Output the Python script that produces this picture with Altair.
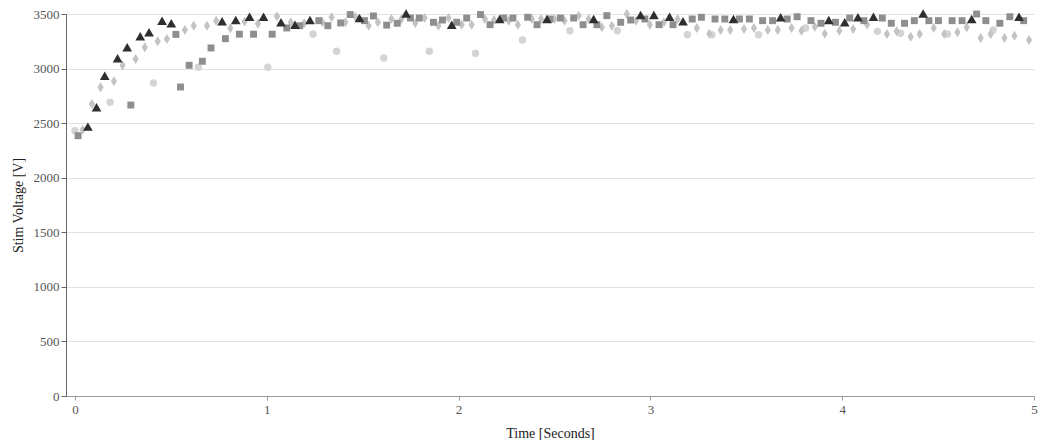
import altair as alt
import pandas as pd

# Black triangles
tri_t = [0.067, 0.112, 0.155, 0.222, 0.272, 0.340, 0.386, 0.454, 0.502, 0.767, 0.838, 0.910, 0.983,
         1.074, 1.147, 1.225, 1.483, 1.726, 1.964, 2.214, 2.461, 2.704, 2.949, 3.018, 3.100, 3.170,
         3.433, 3.679, 3.930, 4.013, 4.082, 4.163, 4.422, 4.675, 4.922]
tri_v = [2468, 2645, 2935, 3094, 3195, 3296, 3332, 3439, 3415, 3433, 3445, 3475, 3475,
         3424, 3402, 3445, 3463, 3505, 3402, 3454, 3454, 3454, 3490, 3490, 3475, 3433,
         3454, 3470, 3445, 3424, 3470, 3475, 3505, 3454, 3475]

# Medium gray squares
sq_t = [0.016, 0.291, 0.526, 0.550, 0.595, 0.664, 0.709, 0.784, 0.857, 0.931, 1.028, 1.104, 1.172,
        1.271, 1.318, 1.385, 1.435, 1.509, 1.556, 1.625, 1.680, 1.749, 1.795, 1.869, 1.916, 1.990,
        2.042, 2.114, 2.164, 2.235, 2.283, 2.360, 2.409, 2.476, 2.531, 2.600, 2.649, 2.721, 2.773,
        2.845, 2.897, 2.971, 3.045, 3.118, 3.218, 3.266, 3.337, 3.388, 3.464, 3.516, 3.585, 3.637,
        3.713, 3.765, 3.837, 3.889, 3.965, 4.039, 4.113, 4.209, 4.256, 4.325, 4.376, 4.452, 4.502,
        4.573, 4.625, 4.701, 4.749, 4.822, 4.874, 4.946]
sq_v = [2385, 2666, 3313, 2831, 3030, 3067, 3189, 3274, 3315, 3315, 3315, 3372, 3393,
        3439, 3393, 3418, 3495, 3439, 3482, 3398, 3415, 3463, 3463, 3424, 3445, 3424,
        3463, 3495, 3402, 3463, 3463, 3470, 3402, 3454, 3463, 3463, 3402, 3402, 3485,
        3424, 3445, 3454, 3402, 3402, 3454, 3470, 3454, 3454, 3454, 3454, 3439, 3439,
        3454, 3475, 3439, 3415, 3424, 3463, 3439, 3463, 3415, 3415, 3439, 3439, 3439,
        3439, 3439, 3500, 3439, 3415, 3475, 3439]

# Light gray diamonds
dia_t = [0.040, 0.088, 0.133, 0.203, 0.248, 0.316, 0.364, 0.431, 0.479, 0.573, 0.619, 0.688, 0.736,
         0.810, 0.884, 0.954, 1.053, 1.125, 1.195, 1.290, 1.338, 1.410, 1.462, 1.531, 1.579, 1.650,
         1.702, 1.774, 1.823, 1.895, 1.947, 2.016, 2.068, 2.137, 2.185, 2.261, 2.309, 2.382, 2.430,
         2.500, 2.552, 2.626, 2.678, 2.747, 2.799, 2.877, 2.925, 2.997, 3.070, 3.142, 3.242, 3.307,
         3.366, 3.416, 3.488, 3.540, 3.612, 3.664, 3.736, 3.788, 3.857, 3.909, 3.985, 4.057, 4.130,
         4.233, 4.284, 4.357, 4.404, 4.477, 4.532, 4.601, 4.649, 4.722, 4.774, 4.846, 4.898, 4.974]
dia_v = [2440, 2675, 2828, 2883, 3027, 3088, 3195, 3250, 3271, 3353, 3393, 3393, 3439,
         3370, 3432, 3410, 3480, 3424, 3416, 3424, 3470, 3424, 3475, 3393, 3424, 3454,
         3454, 3415, 3463, 3393, 3463, 3402, 3402, 3454, 3445, 3439, 3402, 3454, 3454,
         3454, 3439, 3485, 3454, 3378, 3393, 3500, 3439, 3402, 3424, 3454, 3372, 3320,
         3353, 3353, 3362, 3372, 3353, 3353, 3372, 3347, 3384, 3320, 3347, 3362, 3402,
         3317, 3341, 3292, 3317, 3372, 3317, 3332, 3378, 3280, 3317, 3280, 3301, 3262]

# Very light gray circles
cir_t = [0.000, 0.183, 0.409, 0.643, 1.005, 1.241, 1.364, 1.610, 1.847, 2.088, 2.333, 2.580,
         2.828, 3.193, 3.320, 3.564, 3.809, 4.184, 4.304, 4.549, 4.787]
cir_v = [2431, 2691, 2868, 3012, 3012, 3317, 3158, 3097, 3158, 3140, 3262, 3347,
         3347, 3310, 3310, 3310, 3372, 3341, 3323, 3317, 3353]

x_ticks = [0, 1, 2, 3, 4, 5]
y_ticks = [0, 500, 1000, 1500, 2000, 2500, 3000, 3500]

FONT = "Liberation Serif"

def frame(t, v):
    return pd.DataFrame({"t": t, "v": v})

xenc = alt.X("t:Q", title="Time [Seconds]",
             scale=alt.Scale(domain=[-0.047, 5.0], nice=False, zero=False),
             axis=alt.Axis(values=x_ticks, grid=False, format="d", labelFlush=False,
                           labelFont=FONT, labelFontSize=13, labelColor="#555",
                           titleFont=FONT, titleFontSize=14, titleFontWeight="normal",
                           titleColor="#222",
                           domainColor="#999", tickColor="#999", tickSize=4,
                           labelPadding=3, titlePadding=10))
yenc = alt.Y("v:Q", title="Stim Voltage [V]",
             scale=alt.Scale(domain=[0, 3500], nice=False),
             axis=alt.Axis(values=y_ticks, grid=True, gridColor="#e2e2e2", format="d",
                           labelFont=FONT, labelFontSize=13, labelColor="#555",
                           titleFont=FONT, titleFontSize=14, titleFontWeight="normal",
                           titleColor="#222",
                           domainColor="#666", tickColor="#666", tickSize=5,
                           labelPadding=2, titlePadding=8))

circles = alt.Chart(frame(cir_t, cir_v)).mark_point(
    shape="circle", filled=True, size=55, color="#d4d4d4", opacity=1
).encode(x=xenc, y=yenc)

diamonds = alt.Chart(frame(dia_t, dia_v)).mark_point(
    shape="M-0.62,0L0,-1L0.62,0L0,1Z", filled=True, size=100, color="#c3c3c3", opacity=1
).encode(x=xenc, y=yenc)

squares = alt.Chart(frame(sq_t, sq_v)).mark_point(
    shape="square", filled=True, size=48, color="#8e8e8e", opacity=1
).encode(x=xenc, y=yenc)

triangles = alt.Chart(frame(tri_t, tri_v)).mark_point(
    shape="triangle-up", filled=True, size=95, color="#2e2e2e", opacity=1
).encode(x=xenc, y=yenc)

chart = alt.layer(circles, diamonds, squares, triangles).properties(
    width=968, height=382,
    autosize=alt.AutoSizeParams(type="none"),
    padding={"left": 58, "top": 6, "right": 5, "bottom": 44},
    background="white",
).configure_view(stroke=None)

chart.save("out.html", embed_options={"renderer": "svg", "actions": False})
